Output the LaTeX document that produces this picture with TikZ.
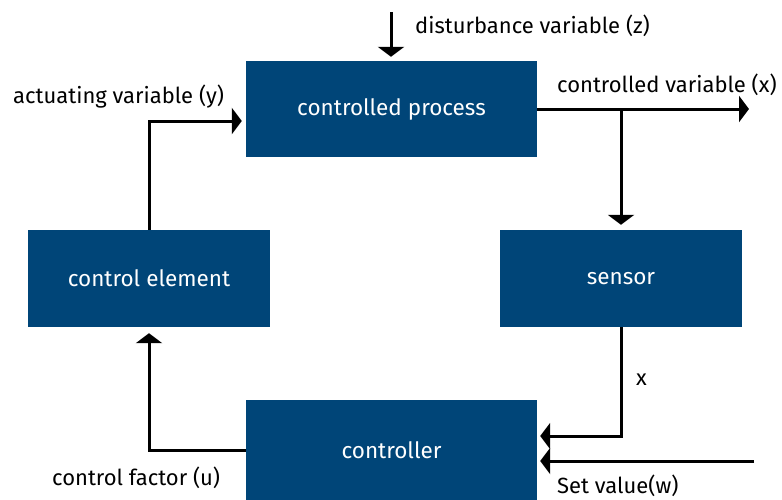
\documentclass[tikz,border=0pt]{standalone}
\usepackage{fontspec}
\setmainfont{Fira Sans}
\usepackage{tikz}
\usetikzlibrary{arrows.meta}
\usetikzlibrary{calc}
\usetikzlibrary{positioning}
\definecolor{blockcolour}{RGB}{0,69,120}
\newcommand\linewd{3pt}
\newcommand\txtsize{\fontsize{22}{26}\selectfont}
\newcommand\blocksize{\fontsize{22.5}{27}\selectfont}
\tikzset{>={Triangle[width=26pt,length=10pt]}}
\tikzstyle{block}  = [fill=blockcolour, text=white, inner sep=0pt, font=\blocksize]
\tikzstyle{signal} = [line width=\linewd, ->]
\tikzstyle{tag}    = [inner sep=0pt, anchor=base west, font=\txtsize]

\begin{document}
\begin{tikzpicture}[x=1pt,y=-1pt]
  \useasboundingbox (0,0) rectangle (782,499);
  % blocks
  \node[block, minimum width=291pt, minimum height=96pt] (proc) at (391.5,109) {controlled process};
  \node[block, minimum width=242pt, minimum height=97pt] (elem) at (149,278.5) {control element};
  \node[block, minimum width=242pt, minimum height=97pt] (sens) at (621,278.5) {sensor};
  \node[block, minimum width=291pt, minimum height=100pt] (ctrl) at (391.5,450) {controller};
  % free ends
  \coordinate (zin) at (391,12);
  \coordinate (xout) at (749,109);
  \coordinate (win) at (754,461);
  \coordinate (branch) at (sens.north |- proc.east);
  % connectors
  \draw[signal, shorten >=4pt] (zin) -- (zin |- proc.north);
  \draw[signal, shorten >=4pt] (elem.north) |- ([yshift=-12pt]proc.west);
  \draw[signal] (proc.east) -- (xout);
  \draw[signal, shorten >=5pt] (branch) -- (sens.north);
  \draw[signal, shorten >=3pt] (sens.south) |- ([yshift=14pt]ctrl.east);
  \draw[signal, shorten >=3pt] (win) -- (win -| ctrl.east);
  \draw[signal, shorten >=6pt] (ctrl.west) -| (elem.south);
  % labels
  \node[tag] (zlbl) at (415,33) {disturbance variable (z)};
  \node[tag] (ylbl) at (13,103) {actuating variable (y)};
  \node[tag] (xlbl) at (557,92) {controlled variable (x)};
  \node[tag] (slbl) at (636,385) {x};
  \node[tag] (wlbl) at (557,493) {Set value(w)};
  \node[tag] (ulbl) at (52,485) {control factor (u)};
\end{tikzpicture}
\end{document}
